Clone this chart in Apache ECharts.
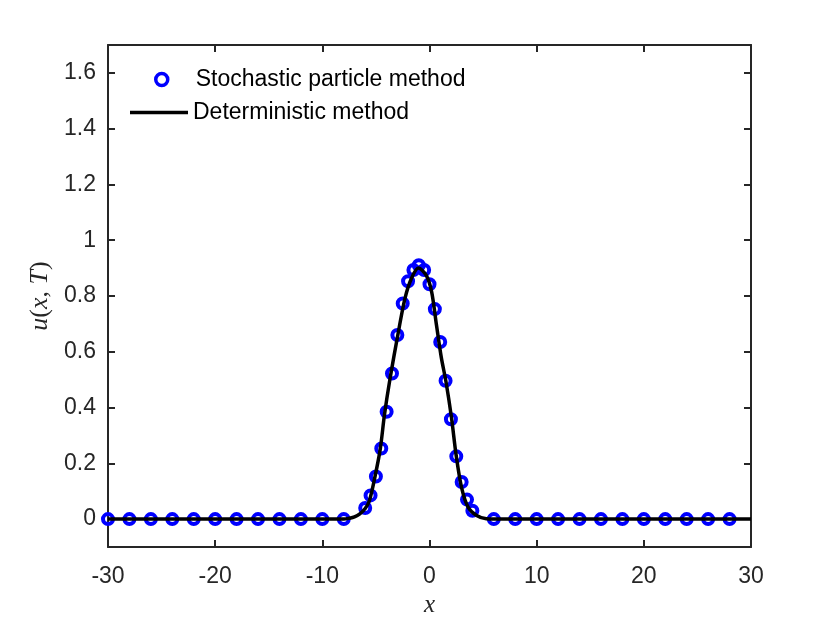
<!DOCTYPE html>
<html>
<head>
<meta charset="utf-8">
<title>u(x,T)</title>
<script src="https://cdn.jsdelivr.net/npm/echarts@6/dist/echarts.min.js"></script>
<style>
  html, body { margin: 0; padding: 0; background: #fff; }
  #chart { width: 830px; height: 623px; }
</style>
</head>
<body>
<div id="chart"></div>
<script>
// particle positions and values
const stochX = [-30, -28, -26, -24, -22, -20, -18, -16, -14, -12, -10, -8,
  -6, -5.5, -5, -4.5, -4, -3.5, -3, -2.5, -2, -1.5, -1, -0.5, 0, 0.5, 1, 1.5, 2, 2.5, 3, 3.5, 4,
  6, 8, 10, 12, 14, 16, 18, 20, 22, 24, 26, 28];
const stochY = [0, 0, 0, 0, 0, 0, 0, 0, 0, 0, 0, 0,
  0.04, 0.085, 0.153, 0.253, 0.385, 0.522, 0.66, 0.773, 0.853, 0.893, 0.91, 0.893, 0.842,
  0.753, 0.635, 0.496, 0.358, 0.225, 0.133, 0.07, 0.03,
  0, 0, 0, 0, 0, 0, 0, 0, 0, 0, 0, 0];

// deterministic curve, traced
const detX = [-30, -10, -8, -7.5, -7, -6.5, -6, -5.6, -5.1, -4.6, -4.2, -3.7, -2.9, -2.3, -1.7,
  -1.03, -0.3, 0.2, 0.65, 1.1, 1.55, 2.05, 2.5, 3.0, 3.6, 4.4, 5.3, 6, 30];
const detY = [0, 0, 0, 0.003, 0.008, 0.019, 0.038, 0.067, 0.15, 0.25, 0.375, 0.5, 0.672, 0.79, 0.862,
  0.9, 0.874, 0.815, 0.696, 0.58, 0.49, 0.364, 0.225, 0.112, 0.043, 0.013, 0.001, 0, 0];

const yTicks = [0, 0.2, 0.4, 0.6, 0.8, 1, 1.2, 1.4, 1.6];
const seriesNames = ['Stochastic particle method', 'Deterministic method'];

const axisColor = '#262626';
const sans = 'Liberation Sans';
const serif = 'Liberation Serif';
const blue = '#0000ff';

const chart = echarts.init(document.getElementById('chart'));

const xBase = {
  type: 'value', min: -30, max: 30, interval: 10,
  splitLine: { show: false },
  axisLine: { onZero: false, lineStyle: { color: axisColor, width: 2 } },
  axisTick: { inside: true, length: 7, lineStyle: { color: axisColor, width: 2 } }
};
const yBase = {
  type: 'value', min: -0.1, max: 1.7,
  splitLine: { show: false },
  axisLine: { onZero: false, lineStyle: { color: axisColor, width: 2 } },
  axisTick: { inside: true, length: 7, customValues: yTicks, lineStyle: { color: axisColor, width: 2 } }
};
const legendText = { fontFamily: sans, fontSize: 23, color: '#000' };

chart.setOption({
  animation: false,
  backgroundColor: '#fff',
  grid: { left: 108, right: 79, top: 45, bottom: 73, containLabel: false },
  legend: [
    {
      left: 154, top: 68, padding: 0, itemWidth: 12, itemHeight: 12,
      itemStyle: { color: 'rgba(0,0,0,0)', borderColor: blue, borderWidth: 3.5 },
      textStyle: Object.assign({ padding: [0, 0, 0, 23] }, legendText),
      data: [seriesNames[0]]
    },
    {
      left: 130, top: 101, padding: 0, itemWidth: 58, itemHeight: 3.5,
      textStyle: legendText,
      data: [{ name: seriesNames[1], icon: 'rect' }]
    }
  ],
  xAxis: [
    Object.assign({}, xBase, {
      position: 'bottom',
      axisLabel: { margin: 18, fontFamily: sans, fontSize: 23, color: axisColor },
      name: 'x', nameLocation: 'middle', nameGap: 46,
      nameTextStyle: { fontFamily: serif, fontStyle: 'italic', fontSize: 25, color: axisColor }
    }),
    Object.assign({}, xBase, { position: 'top', axisLabel: { show: false } })
  ],
  yAxis: [
    Object.assign({}, yBase, {
      position: 'left',
      axisLabel: { customValues: yTicks, margin: 12, fontFamily: sans, fontSize: 23, color: axisColor },
      name: '{i|u}{r|(}{i|x}{r|, }{i|T}{r|)}', nameLocation: 'middle', nameGap: 50,
      nameTextStyle: {
        fontFamily: serif, fontSize: 26, color: axisColor,
        rich: {
          i: { fontFamily: serif, fontStyle: 'italic', fontSize: 26, color: axisColor },
          r: { fontFamily: serif, fontSize: 26, color: axisColor }
        }
      }
    }),
    Object.assign({}, yBase, { position: 'right', axisLabel: { show: false } })
  ],
  series: [
    {
      name: seriesNames[0],
      type: 'scatter',
      symbol: 'circle',
      symbolSize: 10,
      itemStyle: { color: 'rgba(0,0,0,0)', borderColor: blue, borderWidth: 4, opacity: 1 },
      data: stochX.map((x, i) => [x, stochY[i]]),
      z: 2
    },
    {
      name: seriesNames[1],
      type: 'line',
      symbol: 'none',
      smooth: 0.3,
      lineStyle: { color: '#000', width: 3.5 },
      itemStyle: { color: '#000' },
      data: detX.map((x, i) => [x, detY[i]]),
      z: 3
    }
  ]
});
</script>
</body>
</html>
